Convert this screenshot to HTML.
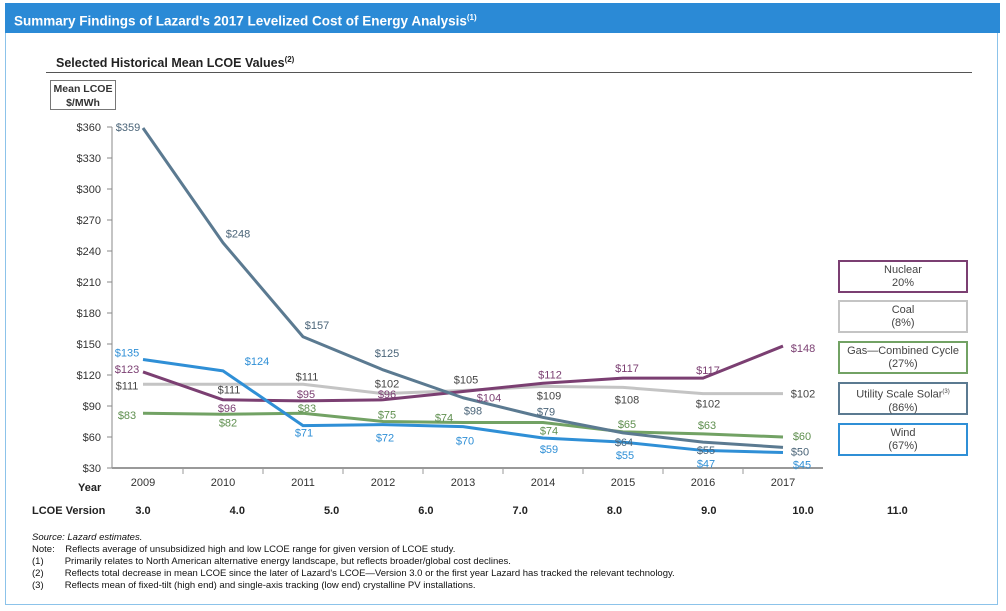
<!DOCTYPE html>
<html><head><meta charset="utf-8"><style>
body{margin:0;background:#fff;font-family:"Liberation Sans",Arial,sans-serif;}
#wrap{position:relative;width:1006px;height:611px;overflow:hidden;}
.hdr{position:absolute;left:5px;top:3px;width:995px;height:30px;background:#2b8ad6;color:#fff;font-weight:bold;font-size:13.5px;line-height:30px;padding-left:9px;box-sizing:border-box;}
.frame{position:absolute;left:5px;top:33px;width:993px;height:572px;border:1px solid #8cc3ea;border-top:none;box-sizing:border-box;}
.sub{position:absolute;left:56px;top:55px;font-weight:bold;font-size:12.5px;color:#222;}
.rule{position:absolute;left:46px;top:72px;width:926px;height:1px;background:#555;}
.ybox{position:absolute;left:50px;top:80px;width:66px;height:30px;border:1px solid #777;font-size:10.5px;font-weight:bold;text-align:center;line-height:14px;color:#333;box-sizing:border-box;padding-top:1px;}
.leg{position:absolute;left:838px;width:130px;height:33px;border:2px solid;box-sizing:border-box;font-size:11px;text-align:center;line-height:13px;color:#444;padding-top:2px;}
.foot{position:absolute;left:32px;font-size:9.5px;color:#111;}
</style></head><body><div id="wrap">
<div class="hdr">Summary Findings of Lazard's 2017 Levelized Cost of Energy Analysis<sup style="font-size:8px">(1)</sup></div>
<div class="frame"></div>
<div class="sub">Selected Historical Mean LCOE Values<sup style="font-size:8px">(2)</sup></div>
<div class="rule"></div>
<div class="ybox">Mean LCOE<br>$/MWh</div>
<svg id="chart" width="1006" height="611" style="position:absolute;left:0;top:0" font-family="Liberation Sans, Arial, sans-serif"></svg>
<div class="leg" style="top:260px;border-color:#7b3f72">Nuclear<br>20%</div>
<div class="leg" style="top:300px;border-color:#c4c4c4">Coal<br>(8%)</div>
<div class="leg" style="top:341px;border-color:#72a264">Gas—Combined Cycle<br>(27%)</div>
<div class="leg" style="top:382px;border-color:#5b7a91">Utility Scale Solar<sup style="font-size:6px">(3)</sup><br>(86%)</div>
<div class="leg" style="top:423px;border-color:#2f8fd6">Wind<br>(67%)</div>
<div class="foot" style="top:532px;font-style:italic">Source: Lazard estimates.</div>
<div class="foot" style="top:544px">Note:&nbsp;&nbsp;&nbsp;&nbsp;Reflects average of unsubsidized high and low LCOE range for given version of LCOE study.</div>
<div class="foot" style="top:556px">(1)&nbsp;&nbsp;&nbsp;&nbsp;&nbsp;&nbsp;&nbsp;&nbsp;Primarily relates to North American alternative energy landscape, but reflects broader/global cost declines.</div>
<div class="foot" style="top:568px">(2)&nbsp;&nbsp;&nbsp;&nbsp;&nbsp;&nbsp;&nbsp;&nbsp;Reflects total decrease in mean LCOE since the later of Lazard's LCOE—Version 3.0 or the first year Lazard has tracked the relevant technology.</div>
<div class="foot" style="top:580px">(3)&nbsp;&nbsp;&nbsp;&nbsp;&nbsp;&nbsp;&nbsp;&nbsp;Reflects mean of fixed-tilt (high end) and single-axis tracking (low end) crystalline PV installations.</div>
<script>
const years=["2009","2010","2011","2012","2013","2014","2015","2016","2017"];
const versions=["3.0","4.0","5.0","6.0","7.0","8.0","9.0","10.0","11.0"];
const yTicks=[30,60,90,120,150,180,210,240,270,300,330,360];
const solar=[359,248,157,125,98,79,64,55,50];
const wind=[135,124,71,72,70,59,55,47,45];
const nuclear=[123,96,95,96,104,112,117,117,148];
const coal=[111,111,111,102,105,109,108,102,102];
const gas=[83,82,83,75,74,74,65,63,60];
const NS="http://www.w3.org/2000/svg";
const svg=document.getElementById('chart');
function x(i){return 143+80*i;}
function xv(i){return 143+94.3*i;}
function y(v){return 468-(v-30)*341/330;}
function mk(t,a){const e=document.createElementNS(NS,t);for(const k in a)e.setAttribute(k,a[k]);svg.appendChild(e);return e;}
let ax=mk('line',{x1:112,y1:y(360),x2:112,y2:468,stroke:'#888'});


let bx=mk('line',{x1:112,y1:468,x2:823,y2:468,stroke:'#999','stroke-width':2});


yTicks.forEach(v=>{
 const t=mk('text',{x:101,y:y(v)+4,'text-anchor':'end','font-size':11,fill:'#333'});t.textContent='$'+v;
 
 
 mk('line',{x1:107,y1:y(v),x2:112,y2:y(v),stroke:'#888'});
});
years.forEach((yr,i)=>{
 const t=mk('text',{x:x(i),y:486,'text-anchor':'middle','font-size':11,fill:'#333'});t.textContent=yr;
 
 
 if(i<8)mk('line',{x1:x(i)+40,y1:468,x2:x(i)+40,y2:474,stroke:'#999'});
});
const yl=mk('text',{x:78,y:491,'font-size':11,'font-weight':'bold',fill:'#222'});yl.textContent='Year';


const vl=mk('text',{x:32,y:514,'font-size':11,'font-weight':'bold',fill:'#222'});vl.textContent='LCOE Version';


versions.forEach((v,i)=>{const t=mk('text',{x:xv(i),y:514,'text-anchor':'middle','font-size':11,'font-weight':'bold',fill:'#222'});t.textContent=v;
 
 });
const series=[
 {n:'coal',d:coal,c:'#c4c4c4',lc:'#444',o:[[-16,1],[6,5],[4,-8],[4,-10],[3,-11],[6,9],[4,12],[5,10],[20,0]]},
 {n:'gas',d:gas,c:'#72a264',lc:'#5f8f4f',o:[[-16,2],[5,8],[4,-5],[4,-7],[-19,-5],[6,8],[4,-8],[4,-9],[19,-1]]},
 {n:'nuclear',d:nuclear,c:'#7b3f72',lc:'#7b3f72',o:[[-16,-3],[4,8],[3,-7],[4,-6],[26,6],[7,-9],[4,-10],[5,-8],[20,2]]},
 {n:'solar',d:solar,c:'#5b7a91',lc:'#4a6478',o:[[-15,-1],[15,-9],[14,-12],[4,-17],[10,13],[3,-6],[1,9],[3,8],[17,4]]},
 {n:'wind',d:wind,c:'#2f8fd6',lc:'#2f8fd6',o:[[-16,-7],[34,-10],[1,7],[2,13],[2,14],[6,11],[2,13],[3,13],[19,12]]}
];
series.forEach(s=>{
 const p=mk('polyline',{points:s.d.map((v,i)=>x(i)+','+y(v)).join(' '),fill:'none',stroke:s.c,'stroke-width':3,'stroke-linejoin':'round'});
 
 
});
series.forEach(s=>{
 s.d.forEach((v,i)=>{
  const t=mk('text',{x:x(i)+s.o[i][0],y:y(v)+s.o[i][1]+4,'text-anchor':'middle','font-size':11,fill:s.lc});
  t.textContent='$'+v;
  
  
 });
});
</script>
</div></body></html>
